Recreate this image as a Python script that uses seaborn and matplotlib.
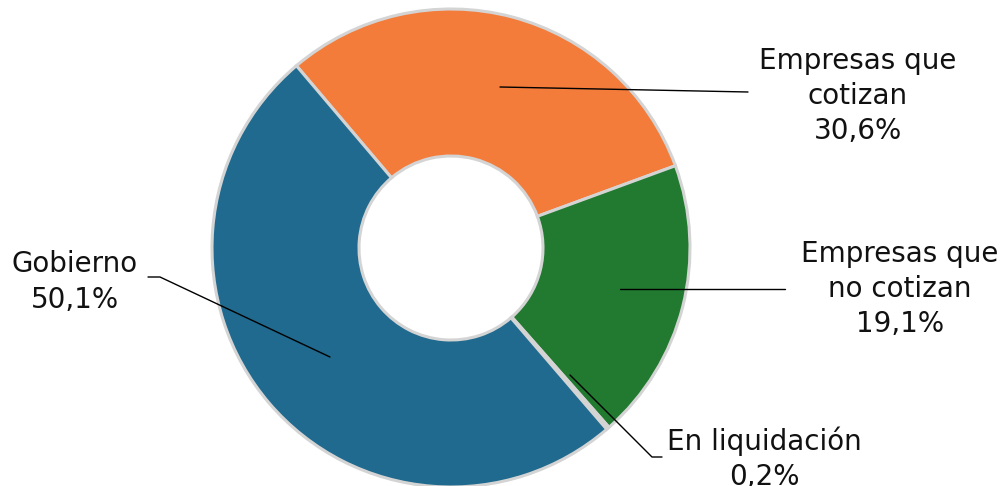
import matplotlib
import matplotlib.pyplot as plt
import seaborn as sns

matplotlib.use("Agg")

# data
labels = ["Empresas que\ncotizan", "Empresas que\nno cotizan", "En liquidación", "Gobierno"]
shares = [30.6, 19.1, 0.2, 50.1]
colors = ["#f47c3a", "#217a30", "#b8b8b8", "#1f6a8e"]

# label placement (pixel coords, y from bottom) and leader lines
label_pos = [(858, 390), (900, 197), (764, 27), (75, 204)]
leader_pts = [
    [(500, 399), (748, 394)],
    [(620, 197), (785, 197)],
    [(570, 111), (652, 29), (662, 29)],
    [(330, 129), (160, 209), (148, 209)],
]


def fmt(v):
    return f"{v:.1f}%".replace(".", ",")


def main():
    sns.set_theme(style="white")
    plt.rcParams["font.family"] = ["DejaVu Sans"]

    fig = plt.figure(figsize=(10.05, 4.86), dpi=100)
    ax = fig.add_axes([0, 0, 1, 1])

    ax.pie(
        shares,
        colors=colors,
        startangle=130.3,
        counterclock=False,
        center=(451, 238),
        radius=239,
        wedgeprops=dict(width=147, edgecolor="#d4d4d4", linewidth=2.2),
        frame=True,
    )
    ax.set_xlim(0, 1005)
    ax.set_ylim(0, 486)
    ax.set_aspect("equal")
    ax.axis("off")

    for lab, v, (x, y), pts in zip(labels, shares, label_pos, leader_pts):
        ax.text(x, y, f"{lab}\n{fmt(v)}", ha="center", va="center",
                fontsize=20, color="#111111", linespacing=1.32)
        xs, ys = zip(*pts)
        ax.plot(xs, ys, color="black", lw=1)

    fig.savefig("out.png", dpi=100)
    plt.close(fig)


if __name__ == "__main__":
    main()
